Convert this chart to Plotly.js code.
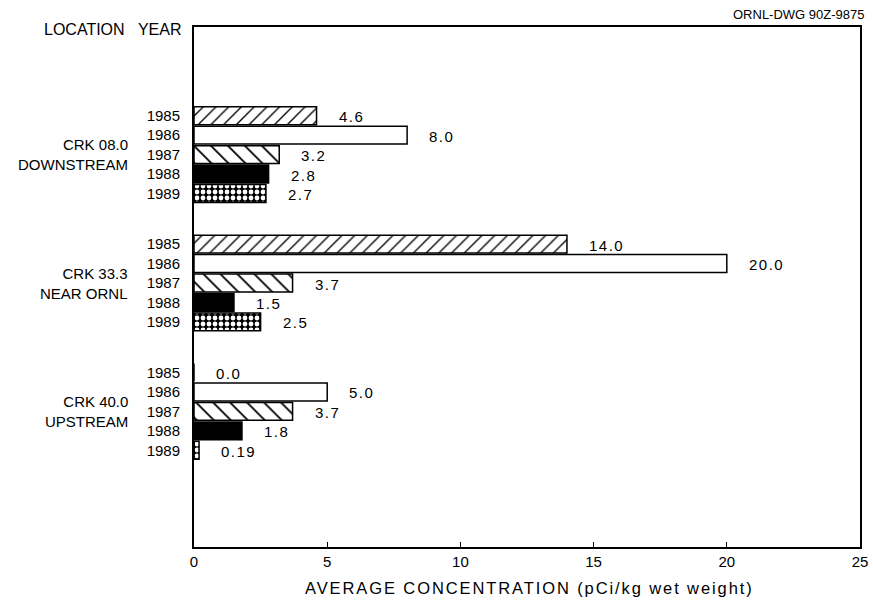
<!DOCTYPE html>
<html>
<head>
<meta charset="utf-8">
<script src="https://cdn.plot.ly/plotly-3.0.1.min.js"></script>
<style>html,body{margin:0;padding:0;background:#fff}#chart{width:873px;height:600px}</style>
</head>
<body>
<div id="chart"></div>
<script>
// ---- data ----
const locations = ['CRK 08.0<br>DOWNSTREAM', 'CRK 33.3<br>NEAR ORNL', 'CRK 40.0<br>UPSTREAM'];
const years = ['1985', '1986', '1987', '1988', '1989'];
const v1985 = [4.6, 14.0, 0.0];
const v1986 = [8.0, 20.0, 5.0];
const v1987 = [3.2, 3.7, 3.7];
const v1988 = [2.8, 1.5, 1.8];
const v1989 = [2.7, 2.5, 0.19];
const labels1985 = ['4.6', '14.0', '0.0'];
const labels1986 = ['8.0', '20.0', '5.0'];
const labels1987 = ['3.2', '3.7', '3.7'];
const labels1988 = ['2.8', '1.5', '1.8'];
const labels1989 = ['2.7', '2.5', '0.19'];
const xTicks = [0, 5, 10, 15, 20, 25];
const xTitle = 'AVERAGE CONCENTRATION (pCi/kg wet weight)';

// ---- layout helpers ----
const GROUP_STEP = 6.6;
const FONT = 'Liberation Sans, Arial, sans-serif';
const values = [v1985, v1986, v1987, v1988, v1989];
const labels = [labels1985, labels1986, labels1987, labels1988, labels1989];
const pos = (g, i) => g * GROUP_STEP + i;
const spaced = (t, px) => '<span style="letter-spacing:' + px + 'px">' + t + '</span>';

const styles = [
  {color: 'white', pattern: {shape: '/', fgcolor: 'black', bgcolor: 'white', size: 9, solidity: 0.15, fillmode: 'replace'}},
  {color: 'white'},
  {color: 'white', pattern: {shape: '\\', fgcolor: 'black', bgcolor: 'white', size: 12, solidity: 0.15, fillmode: 'replace'}},
  {color: 'black'},
  {color: 'black', pattern: {shape: '.', fgcolor: 'white', bgcolor: 'black', size: 6, solidity: 0.5, fillmode: 'replace'}}
];

const traces = years.map((yr, i) => ({
  type: 'bar',
  orientation: 'h',
  name: yr,
  x: values[i],
  y: locations.map((_, g) => pos(g, i)),
  width: 0.92,
  marker: Object.assign({line: {color: 'black', width: 1.5}}, styles[i]),
  hoverinfo: 'x+name'
}));

const annotations = [];
years.forEach((yr, i) => {
  values[i].forEach((v, g) => {
    annotations.push({
      x: v, y: pos(g, i), xref: 'x', yref: 'y',
      text: spaced(labels[i][g], 1.5), showarrow: false,
      xanchor: 'left', yanchor: 'middle', xshift: 20, yshift: -1,
      font: {family: FONT, size: 15, color: 'black'}
    });
  });
});
locations.forEach((loc, g) => {
  annotations.push({
    x: 0, xref: 'paper', xshift: -64, y: pos(g, 2), yref: 'y',
    text: loc, showarrow: false, xanchor: 'right', yanchor: 'middle', align: 'right',
    font: {family: FONT, size: 15, color: 'black'}
  });
});
annotations.push({
  x: 0, xref: 'paper', xshift: -10, y: 1, yref: 'paper', yshift: -2,
  text: 'LOCATION&nbsp;&nbsp;&nbsp;YEAR', showarrow: false, xanchor: 'right', yanchor: 'middle',
  font: {family: FONT, size: 16, color: 'black'}
});
annotations.push({
  x: 1, xref: 'paper', xshift: 6, y: 1, yref: 'paper', yshift: 3,
  text: 'ORNL-DWG 90Z-9875', showarrow: false, xanchor: 'right', yanchor: 'bottom',
  font: {family: FONT, size: 13, color: 'black'}
});
annotations.push({
  x: 0.5, xref: 'paper', xshift: 2, y: 0, yref: 'paper', yshift: -41,
  text: spaced(xTitle, 1.9), showarrow: false, xanchor: 'center', yanchor: 'middle',
  font: {family: FONT, size: 16.5, color: 'black'}
});

const tickVals = [], tickText = [];
locations.forEach((_, g) => years.forEach((yr, i) => { tickVals.push(pos(g, i)); tickText.push(yr); }));

const layout = {
  width: 873, height: 600,
  margin: {l: 194, r: 13, t: 27, b: 53},
  paper_bgcolor: 'white', plot_bgcolor: 'white',
  showlegend: false,
  barmode: 'overlay',
  font: {family: FONT, color: 'black'},
  xaxis: {
    range: [0, 25], tickvals: xTicks, ticks: 'inside', ticklen: 5, tickcolor: 'black',
    showgrid: false, zeroline: false, showline: true, linecolor: 'black', linewidth: 2, mirror: true,
    tickfont: {family: FONT, size: 15}, fixedrange: true
  },
  yaxis: {
    range: [22.17, -4.56], tickvals: tickVals, ticktext: tickText, ticks: '',
    showgrid: false, zeroline: false, showline: true, linecolor: 'black', linewidth: 2, mirror: true,
    tickfont: {family: FONT, size: 15}, ticklabelstandoff: 9, fixedrange: true
  },
  annotations: annotations
};

Plotly.newPlot('chart', traces, layout, {displayModeBar: false, staticPlot: true});
</script>
</body>
</html>
